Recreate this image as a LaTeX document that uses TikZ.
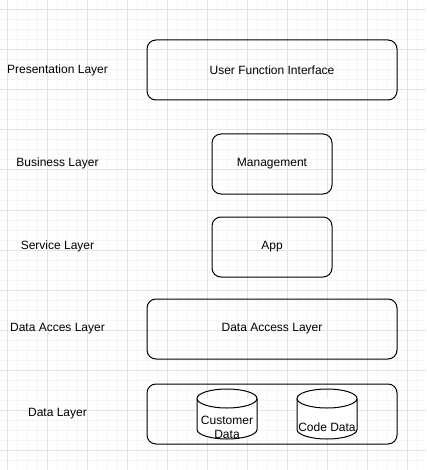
\documentclass[tikz,border=0pt]{standalone}
\usepackage{fontspec}
\setmainfont{Liberation Sans}
\definecolor{gridminor}{HTML}{F5F5F5}
\definecolor{gridmajor}{HTML}{E3E3E3}

\begin{document}
\begin{tikzpicture}[x=1pt, y=-1pt,
	every node/.style={font=\fontsize{12}{14}\selectfont, inner sep=0pt},
	layerbox/.style={draw, line width=1pt, rounded corners=9pt, minimum height=60pt},
	layerlabel/.style={align=center},
	dbshape/.style={draw, line width=1pt}]
	\useasboundingbox (0,0) rectangle (426,470);
	\fill[white] (0,0) rectangle (426,470);
	% grid
	\foreach \x in {7,17,...,427} \draw[gridminor, line width=1pt] (\x,0) -- (\x,470);
	\foreach \y in {0,10,...,470} \draw[gridminor, line width=1pt] (0,\y) -- (426,\y);
	\foreach \x in {7,47,...,427} \draw[gridmajor, line width=1pt] (\x,0) -- (\x,470);
	\foreach \y in {10,50,...,470} \draw[gridmajor, line width=1pt] (0,\y) -- (426,\y);
	% layer names
	\foreach \n/\y/\t in {pres/70/Presentation Layer, bus/163/Business Layer, serv/246/Service Layer, acc/329/Data Acces Layer, data/414/Data Layer}
		\node[layerlabel] (lbl\n) at (57.5,\y) {\t};
	% boxes
	\node[layerbox, minimum width=250pt] (ufi) at (272,70) {User Function Interface};
	\node[layerbox, minimum width=120pt] (mgmt) at (272,164) {Management};
	\node[layerbox, minimum width=120pt] (app) at (272,247) {App};
	\node[layerbox, minimum width=250pt] (dal) at (272,329) {Data Access Layer};
	\node[layerbox, minimum width=250pt] (datalayer) at (272,414) {};
	% databases
	\foreach \n/\cx/\t in {cust/227/Customer\\Data, code/327/Code Data} {
		\draw[dbshape, fill=white] (\cx-30,398.5) -- (\cx-30,429.5) arc[start angle=180, end angle=360, x radius=30pt, y radius=9.5pt] -- (\cx+30,398.5);
		\draw[dbshape] (\cx,398.5) ellipse [x radius=30pt, y radius=9.5pt];
		\node[align=center] (\n) at (\cx,427) {\t};
	}
\end{tikzpicture}
\end{document}
